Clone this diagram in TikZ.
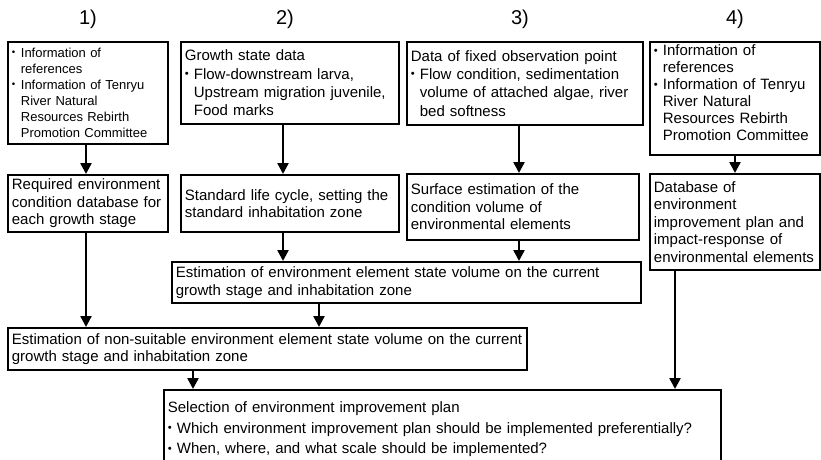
\documentclass[tikz,border=0pt]{standalone}
\usepackage{fontspec}
\setmainfont{Liberation Sans}
\usetikzlibrary{arrows.meta}
\newcommand\bl{\makebox[9pt][l]{\raisebox{0.12em}{\scalebox{0.75}{\textbullet}}}}
\newcommand\ind{\hspace*{9pt}}
\begin{document}
\begin{tikzpicture}[x=1pt,y=-1pt,
  box/.style={draw, line width=1.8pt, anchor=north west, align=left,
    inner xsep=4pt, inner ysep=0pt, font=\fontsize{15}{17.5}\selectfont},
  small/.style={font=\fontsize{13}{16}\selectfont},
  arr/.style={line width=2.4pt, -{Triangle[width=11pt,length=11pt]}},
  head/.style={font=\fontsize{20}{20}\selectfont, inner sep=0pt}]
\useasboundingbox (0,0) rectangle (821,459);
\clip (0,0) rectangle (821,459);

% headings
\node[head] (h1) at (88,19) {1)};
\node[head] (h2) at (285,19) {2)};
\node[head] (h3) at (520,19) {3)};
\node[head] (h4) at (735,19) {4)};

% top row
\node[box, small, minimum width=160, minimum height=102, text width=152] (A1) at (7,41)
  {\bl Information of\\ \ind references\\ \bl Information of Tenryu\\ \ind River Natural\\ \ind Resources Rebirth\\ \ind Promotion Committee};
\node[box, font=\fontsize{15}{18.3}\selectfont, minimum width=218, minimum height=82, text width=210] (A2) at (180,41)
  {Growth state data\\ \bl Flow-downstream larva,\\ \ind Upstream migration juvenile,\\ \ind Food marks};
\node[box, font=\fontsize{15}{18.3}\selectfont, minimum width=236, minimum height=83, text width=228] (A3) at (406,41)
  {Data of fixed observation point\\ \bl Flow condition, sedimentation\\ \ind volume of attached algae, river\\ \ind bed softness};
\node[box, font=\fontsize{15}{17}\selectfont, minimum width=170, minimum height=113, text width=162,
      text height=14pt, text depth=99pt] (A4) at (649,41)
  {\bl Information of\\ \ind references\\ \bl Information of Tenryu\\ \ind River Natural\\ \ind Resources Rebirth\\ \ind Promotion Committee};

% second row
\node[box, minimum width=160, minimum height=57, text width=152] (B1) at (7,174)
  {Required environment\\ condition database for\\ each growth stage};
\node[box, minimum width=218, minimum height=57, text width=210] (B2) at (180,174)
  {Standard life cycle, setting the\\ standard inhabitation zone};
\node[box, minimum width=232, minimum height=66, text width=224] (B3) at (406,173)
  {Surface estimation of the\\ condition volume of\\ environmental elements};
\node[box, minimum width=170, minimum height=96, text width=162] (B4) at (649,173)
  {Database of\\ environment\\ improvement plan and\\ impact-response of\\ environmental elements};

% lower boxes
\node[box, minimum width=469, minimum height=41, text width=461] (C) at (171,261)
  {Estimation of environment element state volume on the current\\ growth stage and inhabitation zone};
\node[box, minimum width=519, minimum height=42, text width=511] (D) at (7,327)
  {Estimation of non-suitable environment element state volume on the current\\ growth stage and inhabitation zone};
\node[box, font=\fontsize{15}{20.5}\selectfont, minimum width=557, minimum height=90, text width=549,
      text height=23pt, text depth=67pt] (E) at (163,389)
  {Selection of environment improvement plan\\ \bl Which environment improvement plan should be implemented preferentially?\\ \bl When, where, and what scale should be implemented?};

% arrow columns
\coordinate (k1) at (86,0);
\coordinate (k2) at (283,0);
\coordinate (k3) at (519,0);
\coordinate (k4) at (735,0);
\coordinate (k5) at (319,0);
\coordinate (k6) at (193,0);
\coordinate (k7) at (675,0);

\draw[arr] (A1.south -| k1) -- (B1.north -| k1);
\draw[arr] (A2.south -| k2) -- (B2.north -| k2);
\draw[arr] (A3.south -| k3) -- (B3.north -| k3);
\draw[arr] (A4.south -| k4) -- (B4.north -| k4);
\draw[arr] (B2.south -| k2) -- (C.north -| k2);
\draw[arr] (B3.south -| k3) -- (C.north -| k3);
\draw[arr] (B1.south -| k1) -- (D.north -| k1);
\draw[arr] (C.south -| k5) -- (D.north -| k5);
\draw[arr] (D.south -| k6) -- (E.north -| k6);
\draw[arr] (B4.south -| k7) -- (E.north -| k7);
\end{tikzpicture}
\end{document}
